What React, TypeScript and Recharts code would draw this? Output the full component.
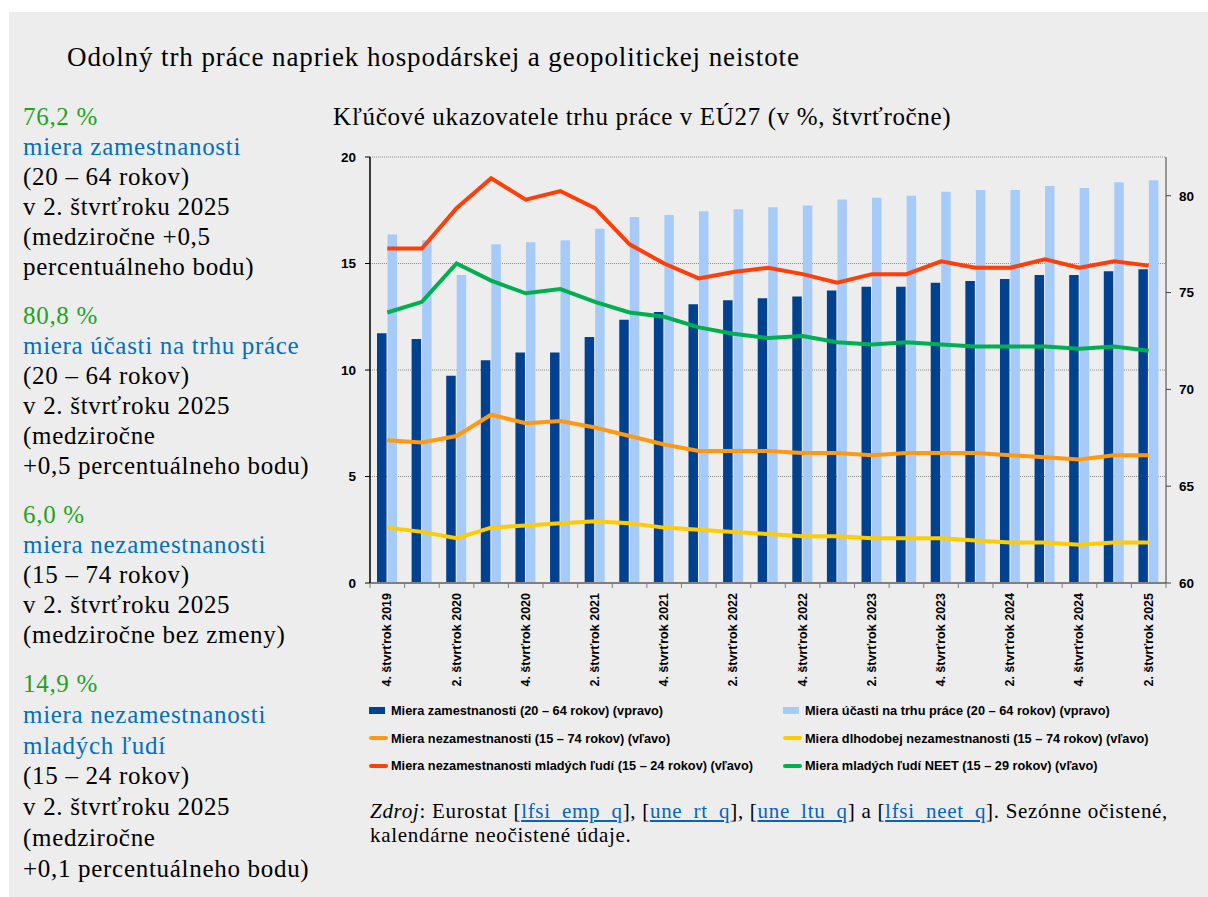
import { Bar, CartesianGrid, ComposedChart, Line, XAxis, YAxis } from "recharts";

// EÚ27, štvrťročne, 4Q2019 – 2Q2025
const quarters = [
  "4. štvrťrok 2019",
  "1. štvrťrok 2020",
  "2. štvrťrok 2020",
  "3. štvrťrok 2020",
  "4. štvrťrok 2020",
  "1. štvrťrok 2021",
  "2. štvrťrok 2021",
  "3. štvrťrok 2021",
  "4. štvrťrok 2021",
  "1. štvrťrok 2022",
  "2. štvrťrok 2022",
  "3. štvrťrok 2022",
  "4. štvrťrok 2022",
  "1. štvrťrok 2023",
  "2. štvrťrok 2023",
  "3. štvrťrok 2023",
  "4. štvrťrok 2023",
  "1. štvrťrok 2024",
  "2. štvrťrok 2024",
  "3. štvrťrok 2024",
  "4. štvrťrok 2024",
  "1. štvrťrok 2025",
  "2. štvrťrok 2025",
];

// pravá os
const employment = [72.9, 72.6, 70.7, 71.5, 71.9, 71.9, 72.7, 73.6, 74.0, 74.4, 74.6, 74.7, 74.8, 75.1, 75.3, 75.3, 75.5, 75.6, 75.7, 75.9, 75.9, 76.1, 76.2];
const participation = [78.0, 77.7, 75.9, 77.5, 77.6, 77.7, 78.3, 78.9, 79.0, 79.2, 79.3, 79.4, 79.5, 79.8, 79.9, 80.0, 80.2, 80.3, 80.3, 80.5, 80.4, 80.7, 80.8];

// ľavá os
const unemployment = [6.7, 6.6, 6.9, 7.9, 7.5, 7.6, 7.3, 6.9, 6.5, 6.2, 6.2, 6.2, 6.1, 6.1, 6.0, 6.1, 6.1, 6.1, 6.0, 5.9, 5.8, 6.0, 6.0];
const longTerm = [2.6, 2.4, 2.1, 2.6, 2.7, 2.8, 2.9, 2.8, 2.6, 2.5, 2.4, 2.3, 2.2, 2.2, 2.1, 2.1, 2.1, 2.0, 1.9, 1.9, 1.8, 1.9, 1.9];
const youth = [15.7, 15.7, 17.6, 19.0, 18.0, 18.4, 17.6, 15.9, 15.0, 14.3, 14.6, 14.8, 14.5, 14.1, 14.5, 14.5, 15.1, 14.8, 14.8, 15.2, 14.8, 15.1, 14.9];
const neet = [12.7, 13.2, 15.0, 14.2, 13.6, 13.8, 13.2, 12.7, 12.5, 12.0, 11.7, 11.5, 11.6, 11.3, 11.2, 11.3, 11.2, 11.1, 11.1, 11.1, 11.0, 11.1, 10.9];

const leftTicks = [0, 5, 10, 15, 20];
const rightTicks = [60, 65, 70, 75, 80];

const data = quarters.map((q, i) => ({
  q,
  employment: employment[i],
  participation: participation[i],
  unemployment: unemployment[i],
  longTerm: longTerm[i],
  youth: youth[i],
  neet: neet[i],
}));

const legendLeft = [
  { label: "Miera zamestnanosti (20 – 64 rokov) (vpravo)", color: "#00428f", kind: "bar" },
  { label: "Miera nezamestnanosti (15 – 74 rokov) (vľavo)", color: "#ff9912", kind: "line" },
  { label: "Miera nezamestnanosti mladých ľudí (15 – 24 rokov) (vľavo)", color: "#ff3f0a", kind: "line" },
];
const legendRight = [
  { label: "Miera účasti na trhu práce (20 – 64 rokov) (vpravo)", color: "#a7cbf9", kind: "bar" },
  { label: "Miera dlhodobej nezamestnanosti (15 – 74 rokov) (vľavo)", color: "#ffcc00", kind: "line" },
  { label: "Miera mladých ľudí NEET (15 – 29 rokov) (vľavo)", color: "#00b050", kind: "line" },
];

const summary = [
  { value: "76,2 %", name: ["miera zamestnanosti"], rest: ["(20 – 64 rokov)", "v 2. štvrťroku 2025", "(medziročne +0,5", "percentuálneho bodu)"] },
  { value: "80,8 %", name: ["miera účasti na trhu práce"], rest: ["(20 – 64 rokov)", "v 2. štvrťroku 2025", "(medziročne", "+0,5 percentuálneho bodu)"] },
  { value: "6,0 %", name: ["miera nezamestnanosti"], rest: ["(15 – 74 rokov)", "v 2. štvrťroku 2025", "(medziročne bez zmeny)"] },
  { value: "14,9 %", name: ["miera nezamestnanosti", "mladých ľudí"], rest: ["(15 – 24 rokov)", "v 2. štvrťroku 2025", "(medziročne", "+0,1 percentuálneho bodu)"] },
];

const PLOT_LEFT = 370;
const PLOT_RIGHT = 1166;
const PLOT_TOP = 157;
const PLOT_BOTTOM = 583;
const CHART_W = 1208;
const CHART_H = 700;
const AXIS_FONT = "'Liberation Sans', Arial, sans-serif";
const SERIF = "'Liberation Serif', 'Times New Roman', serif";

function QuarterTick(props: any) {
  const { x, y, payload, index } = props;
  const band = (PLOT_RIGHT - PLOT_LEFT) / quarters.length;
  const i = typeof index === "number" ? index : quarters.indexOf(payload.value);
  return (
    <g>
      <line x1={x - band / 2} x2={x - band / 2} y1={y} y2={y + 5} stroke="#808080" strokeWidth={1} />
      {i === quarters.length - 1 && (
        <line x1={x + band / 2} x2={x + band / 2} y1={y} y2={y + 5} stroke="#808080" strokeWidth={1} />
      )}
      {i % 2 === 0 && (
        <text
          transform={`translate(${x},${y + 10}) rotate(-90)`}
          textAnchor="end"
          dominantBaseline="central"
          fontFamily={AXIS_FONT}
          fontWeight="bold"
          fontSize={12.5}
          fill="#000"
        >
          {payload.value}
        </text>
      )}
    </g>
  );
}

function LegendRow({ item }: { item: { label: string; color: string; kind: string } }) {
  return (
    <div style={{ display: "flex", alignItems: "center", height: 27.5 }}>
      {item.kind === "bar" ? (
        <span style={{ display: "inline-block", width: 16, height: 7, background: item.color, marginRight: 6 }} />
      ) : (
        <span style={{ display: "inline-block", width: 19, height: 4, borderRadius: 2, background: item.color, marginRight: 3 }} />
      )}
      <span>{item.label}</span>
    </div>
  );
}

const link = { color: "#0563c1", textDecoration: "underline" };

export default function App() {
  return (
    <div style={{ position: "relative", width: 1208, height: 897, background: "#fff", overflow: "hidden" }}>
      <style>{"body{margin:0}"}</style>
      <div style={{ position: "absolute", left: 9, top: 12, right: 0, bottom: 0, background: "#ededed" }} />

      <div style={{ position: "absolute", left: 67, top: 42, fontFamily: SERIF, fontSize: 27, letterSpacing: 0.9, lineHeight: "30px", color: "#000", whiteSpace: "nowrap" }}>
        Odolný trh práce napriek hospodárskej a geopolitickej neistote
      </div>

      <div style={{ position: "absolute", left: 23, top: 102, fontFamily: SERIF, fontSize: 25, letterSpacing: 0.7, lineHeight: "30px", whiteSpace: "nowrap" }}>
        {summary.map((s, j) => (
          <div key={s.value} style={{ marginBottom: 19, lineHeight: j === 3 ? "30.8px" : "30px" }}>
            <div style={{ color: "#1fa31f" }}>{s.value}</div>
            {s.name.map((n) => (
              <div key={n} style={{ color: "#0070c0" }}>{n}</div>
            ))}
            {s.rest.map((r, k) => (
              <div key={k} style={{ color: "#000" }}>{r}</div>
            ))}
          </div>
        ))}
      </div>

      <div style={{ position: "absolute", left: 333, top: 102, fontFamily: SERIF, fontSize: 25, letterSpacing: 0.65, lineHeight: "30px", color: "#000", whiteSpace: "nowrap" }}>
        Kľúčové ukazovatele trhu práce v EÚ27 (v %, štvrťročne)
      </div>

      <div style={{ position: "absolute", left: 0, top: 0 }}>
        <ComposedChart
          width={CHART_W}
          height={CHART_H}
          data={data}
          margin={{ top: PLOT_TOP, left: PLOT_LEFT - 40, right: CHART_W - PLOT_RIGHT - 42, bottom: CHART_H - PLOT_BOTTOM - 110 }}
          barGap={1}
          barCategoryGap={7}
        >
          <CartesianGrid yAxisId="left" vertical={false} horizontalValues={leftTicks} stroke="#8c8c8c" strokeDasharray="1 1" />
          <XAxis
            dataKey="q"
            interval={0}
            height={110}
            tick={<QuarterTick />}
            tickLine={false}
            tickSize={0}
            tickMargin={0}
            axisLine={{ stroke: "#808080", strokeWidth: 2 }}
          />
          <YAxis
            yAxisId="left"
            width={40}
            domain={[0, 20]}
            ticks={leftTicks}
            tickSize={5}
            tickMargin={9}
            axisLine={{ stroke: "#000", strokeWidth: 1.5 }}
            tickLine={{ stroke: "#000" }}
            tick={{ fill: "#000", fontSize: 13.5, fontWeight: "bold", fontFamily: AXIS_FONT }}
          />
          <YAxis
            yAxisId="right"
            orientation="right"
            width={42}
            domain={[60, 82]}
            ticks={rightTicks}
            tickSize={5}
            tickMargin={8}
            axisLine={{ stroke: "#404040", strokeWidth: 1 }}
            tickLine={{ stroke: "#404040" }}
            tick={{ fill: "#000", fontSize: 13.5, fontWeight: "bold", fontFamily: AXIS_FONT }}
          />
          <Bar yAxisId="right" dataKey="employment" fill="#00428f" barSize={9.5} isAnimationActive={false} />
          <Bar yAxisId="right" dataKey="participation" fill="#a7cbf9" barSize={9.5} isAnimationActive={false} />
          <Line yAxisId="left" dataKey="unemployment" stroke="#ff9912" strokeWidth={4} dot={false} activeDot={false} isAnimationActive={false} />
          <Line yAxisId="left" dataKey="longTerm" stroke="#ffcc00" strokeWidth={4} dot={false} activeDot={false} isAnimationActive={false} />
          <Line yAxisId="left" dataKey="neet" stroke="#00b050" strokeWidth={4} dot={false} activeDot={false} isAnimationActive={false} />
          <Line yAxisId="left" dataKey="youth" stroke="#ff3f0a" strokeWidth={4} dot={false} activeDot={false} isAnimationActive={false} />
        </ComposedChart>
      </div>

      <div style={{ position: "absolute", left: 369, top: 697, fontFamily: AXIS_FONT, fontWeight: "bold", fontSize: 12.75, color: "#000", whiteSpace: "nowrap" }}>
        {legendLeft.map((item) => (
          <LegendRow key={item.label} item={item} />
        ))}
      </div>
      <div style={{ position: "absolute", left: 783, top: 697, fontFamily: AXIS_FONT, fontWeight: "bold", fontSize: 12.75, color: "#000", whiteSpace: "nowrap" }}>
        {legendRight.map((item) => (
          <LegendRow key={item.label} item={item} />
        ))}
      </div>

      <div style={{ position: "absolute", left: 370, top: 799, fontFamily: SERIF, fontSize: 21, letterSpacing: 0.7, lineHeight: "24px", color: "#000", whiteSpace: "nowrap" }}>
        <div>
          <i>Zdroj</i>: Eurostat [<span style={link}>lfsi_emp_q</span>], [<span style={link}>une_rt_q</span>], [
          <span style={link}>une_ltu_q</span>] a [<span style={link}>lfsi_neet_q</span>]. Sezónne očistené,
        </div>
        <div>kalendárne neočistené údaje.</div>
      </div>
    </div>
  );
}
